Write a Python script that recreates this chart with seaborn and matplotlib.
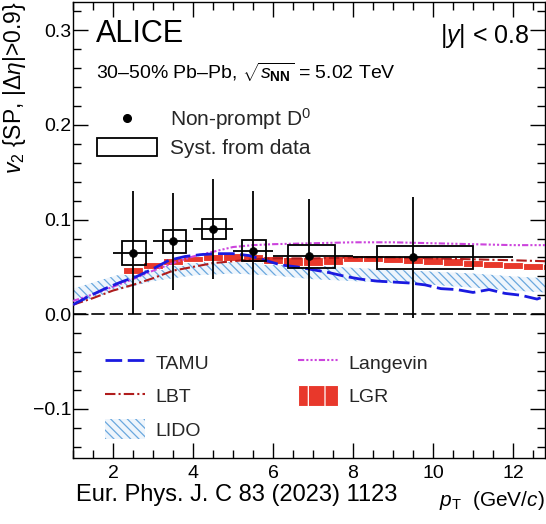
import numpy as np
import pandas as pd
import matplotlib
matplotlib.use("Agg")
import matplotlib.pyplot as plt
import seaborn as sns
from matplotlib.lines import Line2D
from matplotlib.patches import Patch
from matplotlib.ticker import MultipleLocator, FuncFormatter

# ---------------- data ----------------
pt = np.array([2.5, 3.5, 4.5, 5.5, 6.9, 9.5])
v2 = np.array([0.065, 0.077, 0.090, 0.067, 0.061, 0.060])
stat = np.array([0.065, 0.051, 0.053, 0.063, 0.061, 0.064])
pt_lo = np.array([2.0, 3.0, 4.0, 5.0, 6.0, 8.0])
pt_hi = np.array([3.0, 4.0, 5.0, 6.0, 8.0, 12.0])
syst = np.array([0.0125, 0.0125, 0.011, 0.011, 0.012, 0.0125])
syst_x_lo = np.array([2.22, 3.24, 4.22, 5.23, 6.37, 8.6])
syst_x_hi = np.array([2.83, 3.82, 4.83, 5.82, 7.55, 11.0])

tamu_pt = [1.0, 1.4, 1.8, 2.2, 2.6, 3.0, 3.4, 3.8, 4.2, 4.6, 5.0, 5.4, 5.8, 6.2, 6.6, 7.0,
           7.4, 7.8, 8.2, 8.6, 9.0, 9.4, 9.8, 10.2, 10.6, 11.0, 11.4, 11.8, 12.2, 12.6, 12.8]
tamu_v2 = [0.010, 0.019, 0.027, 0.034, 0.040, 0.048, 0.057, 0.061, 0.063, 0.064, 0.064, 0.062,
           0.057, 0.052, 0.050, 0.047, 0.044, 0.040, 0.037, 0.035, 0.034, 0.033, 0.031, 0.027,
           0.026, 0.023, 0.026, 0.022, 0.020, 0.016, 0.019]

lbt_pt = [1.0, 1.5, 2.0, 2.5, 3.0, 3.5, 4.0, 4.5, 5.0, 5.5, 6.0, 6.5, 7.0, 8.0, 9.0, 10.0,
          11.0, 12.0, 12.8]
lbt_v2 = [0.010, 0.017, 0.025, 0.031, 0.038, 0.046, 0.050, 0.054, 0.056, 0.058, 0.059, 0.059,
          0.059, 0.060, 0.060, 0.059, 0.058, 0.057, 0.056]

lang_pt = [1.0, 1.5, 2.0, 2.5, 3.0, 3.5, 4.0, 4.5, 5.0, 5.5, 6.0, 7.0, 8.0, 9.0, 10.0, 11.0,
           12.0, 12.8]
lang_v2 = [0.014, 0.021, 0.029, 0.037, 0.046, 0.054, 0.061, 0.066, 0.071, 0.073, 0.074, 0.075,
           0.076, 0.076, 0.075, 0.074, 0.073, 0.073]

lido_pt = [1.0, 2.0, 3.0, 4.0, 5.0, 6.0, 7.0, 8.0, 9.0, 10.0, 11.0, 12.0, 12.8]
lido_hi = [0.027, 0.040, 0.050, 0.056, 0.058, 0.056, 0.052, 0.049, 0.047, 0.045, 0.043, 0.040, 0.038]
lido_lo = [0.010, 0.024, 0.035, 0.041, 0.043, 0.041, 0.037, 0.035, 0.033, 0.031, 0.028, 0.025, 0.023]

lgr_pt = [2.5, 3.0, 3.5, 4.0, 4.5, 5.0, 5.5, 6.0, 6.5, 7.0, 7.5, 8.0, 8.5, 9.0, 9.5, 10.0,
          10.5, 11.0, 11.5, 12.0, 12.5, 13.0]
lgr_lo = [0.043, 0.048, 0.052, 0.055, 0.056, 0.056, 0.055, 0.053, 0.051, 0.051, 0.052, 0.055,
          0.055, 0.054, 0.053, 0.052, 0.051, 0.050, 0.049, 0.048, 0.047, 0.047]
lgr_hi = [0.050, 0.055, 0.059, 0.062, 0.064, 0.065, 0.064, 0.062, 0.060, 0.060, 0.061, 0.063,
          0.063, 0.062, 0.061, 0.060, 0.059, 0.057, 0.056, 0.055, 0.054, 0.053]

xticks = [2, 4, 6, 8, 10, 12]
yticks = [-0.1, 0.0, 0.1, 0.2, 0.3]

# ---------------- style ----------------
sns.set_theme(style="ticks")
plt.rcParams["font.family"] = ["Liberation Sans", "DejaVu Sans"]
plt.rcParams["mathtext.fontset"] = "custom"
plt.rcParams["mathtext.rm"] = "Liberation Sans"
plt.rcParams["mathtext.it"] = "Liberation Sans:italic"
plt.rcParams["mathtext.bf"] = "Liberation Sans:bold"
plt.rcParams["hatch.linewidth"] = 0.9

BLUE = "#1a1ae0"
DRED = "#b01c1c"
MAG = "#cc44dd"
RED = "#e8382b"
LBLUE = "#6aa8de"

fig = plt.figure(figsize=(5.46, 5.24), dpi=100)
ax = fig.add_axes([73 / 546, 66 / 524, 472 / 546, 456 / 524])

# LIDO band
ax.fill_between(lido_pt, lido_lo, lido_hi, facecolor="#eef5fc", edgecolor=LBLUE,
                hatch="\\\\\\\\", linewidth=0, zorder=1)

# LGR band (boxes)
lgr_lo_a = np.array(lgr_lo)
lgr_hi_a = np.array(lgr_hi)
ax.bar(lgr_pt, lgr_hi_a - lgr_lo_a, bottom=lgr_lo_a, width=0.5, color=RED,
       edgecolor="white", linewidth=0.8, zorder=2)

# model lines
sns.lineplot(x=lbt_pt, y=lbt_v2, ax=ax, color=DRED, lw=1.5,
             linestyle=(0, (5, 1.5, 1, 1.5)), zorder=3, legend=False)
sns.lineplot(x=lang_pt, y=lang_v2, ax=ax, color=MAG, lw=1.5,
             linestyle=(0, (3, 1, 1, 1, 1, 1, 1, 1)), zorder=3, legend=False)
sns.lineplot(x=tamu_pt, y=tamu_v2, ax=ax, color=BLUE, lw=2.0,
             linestyle=(0, (6, 2)), zorder=4, legend=False)

# zero line
ax.axhline(0, color="black", lw=1.2, dashes=(8, 3), zorder=1.5)

# systematic boxes
ax.bar((syst_x_lo + syst_x_hi) / 2, 2 * syst, bottom=v2 - syst,
       width=syst_x_hi - syst_x_lo, fill=False, edgecolor="black", linewidth=1.3, zorder=5)

# statistical errors
ax.errorbar(pt, v2, yerr=stat, xerr=[pt - pt_lo, pt_hi - pt], fmt="none",
            ecolor="black", elinewidth=1.3, capsize=0, zorder=6)
sns.scatterplot(x=pt, y=v2, ax=ax, color="black", s=32, edgecolor="black",
                linewidth=0.5, zorder=7, legend=False)

# axes
ax.set_xlim(1.0, 12.8)
ax.set_ylim(-0.152, 0.33)
ax.set_xticks(xticks)
ax.set_yticks(yticks)
ax.xaxis.set_minor_locator(MultipleLocator(0.5))
ax.yaxis.set_minor_locator(MultipleLocator(0.02))
ax.yaxis.set_major_formatter(FuncFormatter(lambda v, p: f"{v:.1f}".replace("-", "\u2212")))
ax.tick_params(which="both", direction="in", top=True, right=True, width=1.0,
               colors="black", labelsize=14)
ax.tick_params(which="major", length=10.5)
ax.tick_params(which="minor", length=5.5)
ax.tick_params(axis="x", pad=5)
ax.tick_params(axis="y", pad=1)
for s in ax.spines.values():
    s.set_color("black")
    s.set_linewidth(1.0)
ax.grid(False)

ax.set_ylabel(r"$v_{2}$ {SP, |$\Delta\eta$|>0.9}", fontsize=16.5,
              loc="top", labelpad=4, color="black")
ax.set_xlabel(r"$p_{\mathrm{T}}$  (GeV/$c$)", fontsize=15, loc="right", labelpad=5,
              color="black")

# texts
ax.text(96 / 546, 1 - 34 / 524, "ALICE", transform=fig.transFigure, fontsize=22,
        ha="left", va="center", color="black")
ax.text(96 / 546, 1 - 72 / 524, r"30–50% Pb–Pb, $\sqrt{s_{\mathbf{NN}}}$ = 5.02 TeV",
        transform=fig.transFigure, fontsize=14, ha="left", va="center", color="black")
ax.text(530 / 546, 1 - 36 / 524, r"|$y$| < 0.8", transform=fig.transFigure, fontsize=18,
        ha="right", va="center", color="black")
fig.text(76 / 546, 1 - 495 / 524, "Eur. Phys. J. C 83 (2023) 1123", fontsize=17,
         ha="left", va="center", color="black")

# legends
h_data = Line2D([], [], marker="o", color="black", ls="none", markersize=5.5)
h_syst = Patch(facecolor="none", edgecolor="black", lw=1.3)
leg1 = ax.legend([h_data, h_syst], ["Non-prompt D$^{0}$", "Syst. from data"],
                 loc="upper left", bbox_to_anchor=((97 - 73) / 472, (458 - 106) / 456),
                 frameon=False, fontsize=15, handlelength=2.88, handletextpad=0.63,
                 handleheight=0.96, labelspacing=0.3, borderpad=0, borderaxespad=0)
ax.add_artist(leg1)

h_tamu = Line2D([], [], color=BLUE, lw=2.0, ls=(0, (6, 2)))
h_lbt = Line2D([], [], color=DRED, lw=1.5, ls=(0, (5, 1.5, 1, 1.5)))
h_lido = Patch(facecolor="#eef5fc", edgecolor=LBLUE, hatch="\\\\\\\\", lw=0)
h_lang = Line2D([], [], color=MAG, lw=1.5, ls=(0, (3, 1, 1, 1, 1, 1, 1, 1)))
h_lgr = Patch(facecolor=RED, edgecolor="white", hatch="|", lw=0.8)
leg2 = ax.legend([h_tamu, h_lbt, h_lido, h_lang, h_lgr],
                 ["TAMU", "LBT", "LIDO", "Langevin", "LGR"], ncol=2,
                 loc="upper left", bbox_to_anchor=((105 - 73) / 472, (458 - 352) / 456),
                 frameon=False, fontsize=14, handlelength=2.06, handletextpad=0.52,
                 handleheight=1.24, labelspacing=0.65, columnspacing=4.6,
                 borderpad=0, borderaxespad=0)

fig.savefig("out.png", dpi=100)
